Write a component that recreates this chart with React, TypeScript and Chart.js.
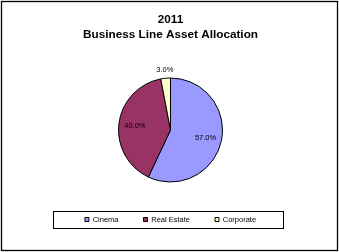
import React, { useEffect, useRef } from "react";
import { Chart, registerables } from "chart.js";

Chart.register(...registerables);

const categories = ["Cinema", "Real Estate", "Corporate"];
const values = [57.0, 40.0, 3.0];
const colors = ["#9999FF", "#993366", "#FFFFCC"];
const titleLines = ["2011", "Business Line Asset Allocation"];

const FONT = "'Liberation Sans', Arial, sans-serif";

const decorPlugin = {
  id: "decor",
  afterDraw(chart: any) {
    const ctx = chart.ctx;
    ctx.save();
    // data labels
    const meta = chart.getDatasetMeta(0);
    const total = values.reduce((a, b) => a + b, 0);
    ctx.font = `7.5px ${FONT}`;
    ctx.fillStyle = "#000";
    ctx.textAlign = "center";
    ctx.textBaseline = "middle";
    meta.data.forEach((arc: any, i: number) => {
      const p = arc.getProps(["x", "y", "startAngle", "endAngle", "outerRadius"], true);
      const mid = (p.startAngle + p.endAngle) / 2;
      const pct = (values[i] / total) * 100;
      const r = pct < 5 ? p.outerRadius + 8 : p.outerRadius * 0.69;
      ctx.fillText(pct.toFixed(1) + "%", p.x + Math.cos(mid) * r, p.y + Math.sin(mid) * r);
    });
    // legend frame
    const lg = chart.legend;
    if (lg && lg.legendHitBoxes && lg.legendHitBoxes.length) {
      const hb = lg.legendHitBoxes;
      const first = hb[0];
      const last = hb[hb.length - 1];
      const cy = first.top + first.height / 2;
      const x0 = Math.round(first.left - 32) + 0.5;
      const x1 = Math.round(last.left + last.width + 27) + 0.5;
      const y0 = Math.round(cy - 8.5) + 0.5;
      const y1 = Math.round(cy + 8.5) + 0.5;
      ctx.strokeStyle = "#000";
      ctx.lineWidth = 1;
      ctx.strokeRect(x0, y0, x1 - x0, y1 - y0);
    }
    // outer frame
    ctx.strokeStyle = "#000";
    ctx.lineWidth = 1.3;
    ctx.strokeRect(1.5, 1.5, chart.width - 3, chart.height - 3);
    ctx.restore();
  },
};

export default function App() {
  const ref = useRef<HTMLCanvasElement | null>(null);
  useEffect(() => {
    if (!ref.current) return;
    const chart = new Chart(ref.current, {
      type: "pie",
      data: {
        labels: categories,
        datasets: [
          {
            data: values,
            backgroundColor: colors,
            borderColor: "#000",
            borderWidth: 1,
            radius: 52,
          } as any,
        ],
      },
      options: {
        responsive: false,
        animation: false,
        layout: { padding: { left: 2, right: 0, top: 0, bottom: 18.75 } },
        plugins: {
          tooltip: { enabled: false },
          title: {
            display: true,
            text: titleLines,
            color: "#000",
            font: { family: FONT, size: 11.75, weight: "bold", lineHeight: "14.5px" },
            padding: { top: 12.75, bottom: 27.5 },
          },
          legend: {
            display: true,
            position: "bottom",
            labels: {
              color: "#000",
              font: { family: FONT, size: 7.5 },
              boxWidth: 4,
              boxHeight: 4,
              padding: 25,
            },
          },
        },
      } as any,
      plugins: [decorPlugin],
    });
    return () => chart.destroy();
  }, []);
  return (
    <div style={{ position: "absolute", left: 0, top: 0, width: 339, height: 252, background: "#fff" }}>
      <canvas ref={ref} width={339} height={252} style={{ display: "block" }} />
    </div>
  );
}
